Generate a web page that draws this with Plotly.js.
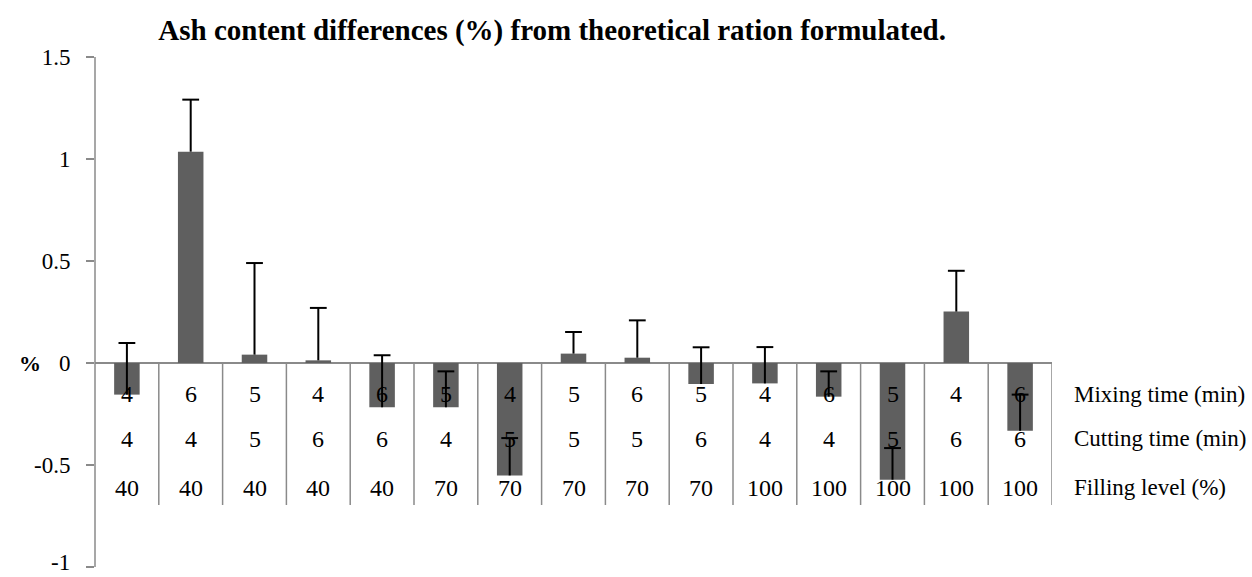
<!DOCTYPE html>
<html>
<head>
<meta charset="utf-8">
<script src="https://cdn.plot.ly/plotly-3.0.1.min.js"></script>
<style>
  html, body { margin: 0; padding: 0; background: #fff; }
  #chart { width: 1252px; height: 577px; }
</style>
</head>
<body>
<div id="chart"></div>
<script>
// Treatment factors for each of the 15 runs
const mixingTime = [4, 6, 5, 4, 6, 5, 4, 5, 6, 5, 4, 6, 5, 4, 6];
const cuttingTime = [4, 4, 5, 6, 6, 4, 5, 5, 5, 6, 4, 4, 5, 6, 6];
const fillingLevel = [40, 40, 40, 40, 40, 70, 70, 70, 70, 70, 100, 100, 100, 100, 100];

// Ash content difference (%) and its positive error
const ashDiff = [-0.155, 1.036, 0.041, 0.013, -0.217, -0.217, -0.551, 0.046, 0.026, -0.103, -0.100, -0.165, -0.572, 0.252, -0.332];
const ashErr = [0.253, 0.255, 0.449, 0.257, 0.255, 0.176, 0.183, 0.106, 0.183, 0.180, 0.178, 0.124, 0.155, 0.200, 0.177];

const rowNames = ['Mixing time (min)', 'Cutting time (min)', 'Filling level (%)'];
const rowValues = [mixingTime, cuttingTime, fillingLevel];

const yTicks = [-1, -0.5, 0, 0.5, 1, 1.5];
const yMin = -1, yMax = 1.5;

const serif = '"Liberation Serif", "Times New Roman", serif';
const axisGray = '#8a8a8a';
const idx = ashDiff.map((_, i) => i);

// Bars
const bars = {
  type: 'bar',
  x: idx,
  y: ashDiff,
  width: 0.4,
  marker: { color: '#5f5f5f', line: { width: 0 } },
  hoverinfo: 'y',
  showlegend: false
};

// One-sided error bars: stem from the bar end toward the positive side
const stemX = [], stemY = [];
idx.forEach(i => {
  stemX.push(i, i, null);
  stemY.push(ashDiff[i], ashDiff[i] + ashErr[i], null);
});
const stems = {
  type: 'scatter', mode: 'lines',
  x: stemX, y: stemY,
  line: { color: '#000', width: 2 },
  hoverinfo: 'skip', showlegend: false
};
const caps = {
  type: 'scatter', mode: 'markers',
  x: idx,
  y: idx.map(i => ashDiff[i] + ashErr[i]),
  marker: { symbol: 'line-ew', size: 12, line: { color: '#000', width: 2 } },
  hoverinfo: 'skip', showlegend: false
};

// Factor table under the zero line
const rowY = [0.3519, 0.2654, 0.1712];
const zeroPaper = 0.4115;
const annotations = [];
rowValues.forEach((vals, r) => {
  vals.forEach((v, i) => {
    annotations.push({
      x: i, xref: 'x', y: rowY[r], yref: 'paper',
      text: String(v), showarrow: false,
      xanchor: 'center', yanchor: 'middle',
      font: { family: serif, size: 24, color: '#000' }
    });
  });
  annotations.push({
    x: 1.0209, xref: 'paper', y: rowY[r], yref: 'paper',
    text: rowNames[r], showarrow: false,
    xanchor: 'left', yanchor: 'middle',
    font: { family: serif, size: 23, color: '#000' }
  });
});
annotations.push({
  x: -0.0684, xref: 'paper', y: zeroPaper, yref: 'paper',
  text: '<b>%</b>', showarrow: false,
  xanchor: 'center', yanchor: 'middle',
  font: { family: serif, size: 22, color: '#000' }
});
// lowest tick label, kept inside the page's bottom edge
annotations.push({
  x: -0.0245, xref: 'paper', y: 0, yref: 'paper',
  text: String(yTicks[0]), showarrow: false,
  xanchor: 'right', yanchor: 'bottom',
  font: { family: serif, size: 23, color: '#000' }
});

const shapes = [];
// cell dividers of the factor table
for (let i = 0; i < idx.length; i++) {
  shapes.push({
    type: 'line', xref: 'x', yref: 'paper',
    x0: i + 0.5, x1: i + 0.5, y0: zeroPaper, y1: 0.1385,
    line: { color: axisGray, width: 1.5 }, layer: 'below'
  });
}
// value axis line, from the lowest to the highest tick
shapes.push({
  type: 'line', xref: 'paper', yref: 'y',
  x0: 0, x1: 0, y0: yMin, y1: yMax,
  line: { color: axisGray, width: 1.5 }, layer: 'below'
});

const layout = {
  width: 1252, height: 577,
  margin: { l: 95, r: 200, t: 57, b: 0, pad: 0 },
  paper_bgcolor: '#fff', plot_bgcolor: '#fff',
  title: {
    text: '<b>Ash content differences (%) from theoretical ration formulated.</b>',
    x: 0.441, xanchor: 'center', xref: 'container',
    y: 0.948, yanchor: 'middle', yref: 'container',
    font: { family: serif, size: 29, color: '#000' }
  },
  xaxis: {
    range: [-0.5, 14.5],
    showticklabels: false, ticks: '', showgrid: false,
    zeroline: false, showline: false, fixedrange: true
  },
  yaxis: {
    range: [yMin - 10 / 204, yMax],
    tickvals: yTicks,
    ticktext: yTicks.map((t, i) => (i === 0 ? '' : String(t))),
    ticks: 'outside', ticklen: 8, tickwidth: 1.5, tickcolor: axisGray,
    ticklabelstandoff: 11,
    showline: false,
    showgrid: false,
    zeroline: true, zerolinecolor: axisGray, zerolinewidth: 2,
    tickfont: { family: serif, size: 23, color: '#000' },
    fixedrange: true
  },
  annotations: annotations,
  shapes: shapes,
  showlegend: false
};

Plotly.newPlot('chart', [bars, stems, caps], layout, { displayModeBar: false, staticPlot: true });
</script>
</body>
</html>
